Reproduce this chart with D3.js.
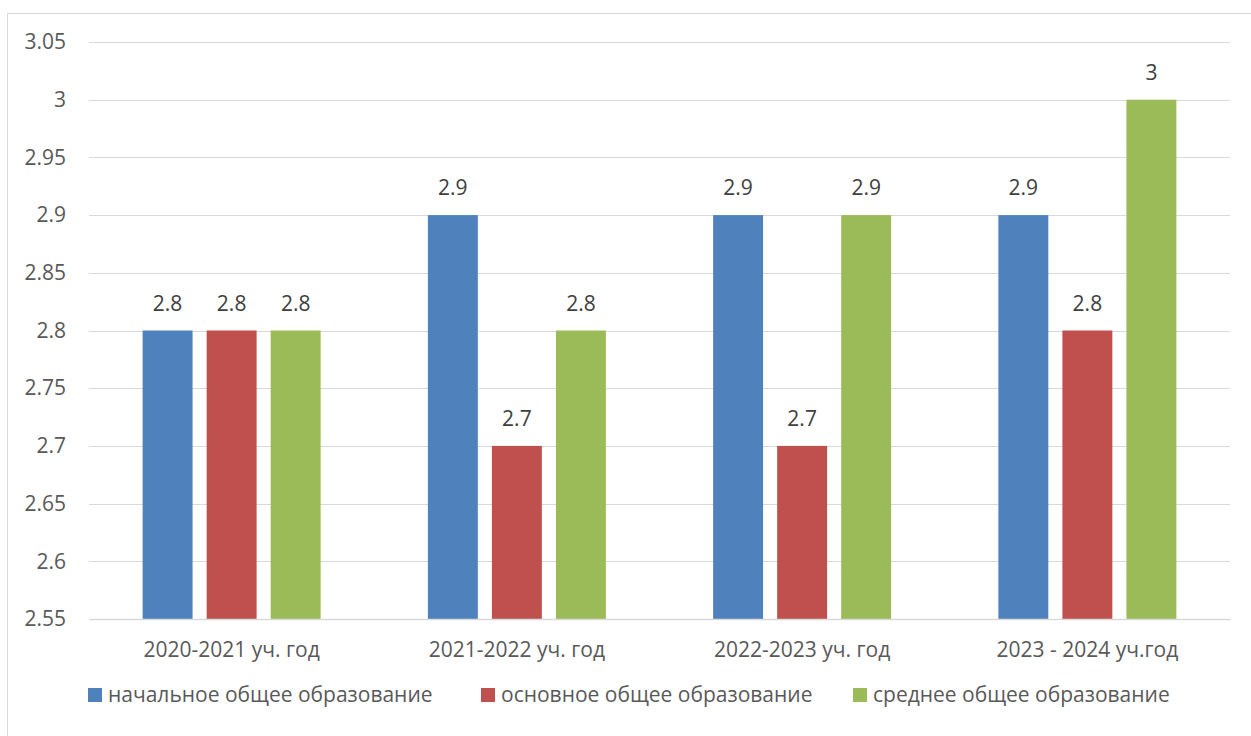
<!DOCTYPE html>
<html>
<head>
<meta charset="utf-8">
<script src="https://cdn.jsdelivr.net/npm/d3@7"></script>
<style>
  body { margin: 0; background: #fff; }
  text { font-family: "Open Sans", "Noto Sans", sans-serif; }
</style>
</head>
<body>
<div id="chart"></div>
<script>
var categories = ['2020-2021 уч. год', '2021-2022 уч. год', '2022-2023 уч. год', '2023 - 2024 уч.год'];
var seriesNames = ['начальное общее образование', 'основное общее образование', 'среднее общее образование'];
var primary = [2.8, 2.9, 2.9, 2.9];
var basic = [2.8, 2.7, 2.7, 2.8];
var secondary = [2.8, 2.8, 2.9, 3.0];
var yTicks = [2.55, 2.6, 2.65, 2.7, 2.75, 2.8, 2.85, 2.9, 2.95, 3, 3.05];
var colors = ['#4F81BD', '#C0504D', '#9BBB59'];

var W = 1251, H = 736;
var margin = {top: 42, right: 21, bottom: 117, left: 89},
    width = W - margin.left - margin.right,
    height = H - margin.top - margin.bottom;

var svg = d3.select('#chart').append('svg')
    .attr('width', W)
    .attr('height', H);

// outer chart border
svg.append('rect')
    .attr('x', 7.5).attr('y', 13.5)
    .attr('width', W + 10).attr('height', H + 10)
    .attr('fill', 'none')
    .attr('stroke', '#d9d9d9');

var g = svg.append('g')
    .attr('transform', 'translate(' + margin.left + ',' + margin.top + ')');

var x = d3.scaleBand()
    .domain(categories)
    .range([0, width]);

var x1 = d3.scaleBand()
    .domain([0, 1, 2])
    .range([x.bandwidth() * 0.188, x.bandwidth() * 0.812])
    .paddingInner(0.22);

var y = d3.scaleLinear()
    .domain([2.55, 3.05])
    .range([height, 0]);

// gridlines
g.append('g')
    .selectAll('line')
    .data(yTicks.slice(1))
    .enter().append('line')
    .attr('x1', 0).attr('x2', width)
    .attr('y1', function(d) { return Math.round(y(d)) + 0.5; })
    .attr('y2', function(d) { return Math.round(y(d)) + 0.5; })
    .attr('stroke', '#d9d9d9')
    .attr('stroke-width', 1);

// y axis labels
var yAxis = g.append('g')
    .call(d3.axisLeft(y).tickValues(yTicks).tickSize(0).tickPadding(23).tickFormat(function(d) { return d3.format('')(+d.toFixed(2)); }));
yAxis.select('.domain').remove();
yAxis.selectAll('text')
    .style('font-size', '21px')
    .style('fill', '#595959');

var data = [primary, basic, secondary];

var groups = g.selectAll('.grp')
    .data(categories)
    .enter().append('g')
    .attr('transform', function(d) { return 'translate(' + x(d) + ',0)'; });

groups.selectAll('rect')
    .data(function(d, i) { return data.map(function(s, j) { return {s: j, v: s[i]}; }); })
    .enter().append('rect')
    .attr('x', function(d) { return x1(d.s); })
    .attr('y', function(d) { return y(d.v); })
    .attr('width', x1.bandwidth())
    .attr('height', function(d) { return height - y(d.v); })
    .attr('fill', function(d) { return colors[d.s]; });

groups.selectAll('.lbl')
    .data(function(d, i) { return data.map(function(s, j) { return {s: j, v: s[i]}; }); })
    .enter().append('text')
    .attr('class', 'lbl')
    .attr('x', function(d) { return x1(d.s) + x1.bandwidth() / 2; })
    .attr('y', function(d) { return y(d.v) - 20; })
    .attr('text-anchor', 'middle')
    .style('font-size', '21px')
    .style('fill', '#404040')
    .text(function(d) { return d3.format('')(d.v); });

// x axis
var xAxis = g.append('g')
    .attr('transform', 'translate(0,' + height + ')')
    .call(d3.axisBottom(x).tickSize(0).tickPadding(23));
xAxis.select('.domain')
    .attr('stroke', '#d9d9d9')
    .attr('stroke-width', 1.5);
xAxis.selectAll('text')
    .style('font-size', '21px')
    .style('fill', '#595959');

// legend
var legendX = [88, 481, 853];
var legend = svg.append('g')
    .selectAll('g')
    .data(seriesNames)
    .enter().append('g')
    .attr('transform', function(d, i) { return 'translate(' + legendX[i] + ',688)'; });
legend.append('rect')
    .attr('width', 14).attr('height', 14)
    .attr('fill', function(d, i) { return colors[i]; });
legend.append('text')
    .attr('x', 20).attr('y', 14)
    .style('font-size', '21px')
    .style('fill', '#595959')
    .text(function(d) { return d; });
</script>
</body>
</html>
